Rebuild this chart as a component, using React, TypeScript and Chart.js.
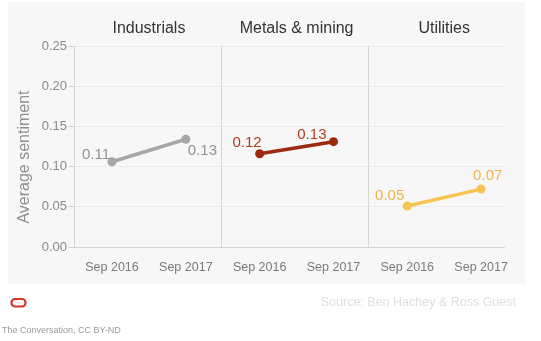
import React, { useEffect, useRef } from 'react';
import { Chart, registerables } from 'chart.js';

Chart.register(...registerables);

// ---- Data ----
const sectors = ['Industrials', 'Metals & mining', 'Utilities'];
const periods = ['Sep 2016', 'Sep 2017'];
const industrials = [0.106, 0.134];
const metalsMining = [0.116, 0.131];
const utilities = [0.051, 0.072];
const industrialsLabels = ['0.11', '0.13'];
const metalsLabels = ['0.12', '0.13'];
const utilitiesLabels = ['0.05', '0.07'];
const yTicks = [0, 0.05, 0.1, 0.15, 0.2, 0.25];
const yTitle = 'Average sentiment';
const sourceText = 'Source: Ben Hachey & Ross Guest';
const creditText = 'The Conversation, CC BY-ND';

// ---- Styles ----
const FONT = "'Liberation Sans', Arial, sans-serif";
const seriesStyles = [
  { line: '#a7a7a7', label: '#929292' },
  { line: '#9c2a0e', label: '#b23d1f' },
  { line: '#f8c451', label: '#eeb44c' },
];
// label placement per point: [dx, dy, align]
const labelPlacement: [number, number, CanvasTextAlign][][] = [
  [[-2, -7, 'right'], [2, 12, 'left']],
  [[2, -11, 'right'], [-7, -7, 'right']],
  [[-3, -10, 'right'], [-8, -13, 'left']],
];

const seriesValues = [industrials, metalsMining, utilities];
const seriesLabels = [industrialsLabels, metalsLabels, utilitiesLabels];

export default function App() {
  const ref = useRef<HTMLCanvasElement | null>(null);

  useEffect(() => {
    if (!ref.current) return;

    const decor = {
      id: 'decor',
      beforeDraw(chart: any) {
        const { ctx } = chart;
        ctx.save();
        ctx.fillStyle = '#ffffff';
        ctx.fillRect(0, 0, chart.width, chart.height);
        ctx.fillStyle = '#f7f7f7';
        ctx.fillRect(8, 2, 517, 282);
        ctx.restore();
      },
      beforeDatasetsDraw(chart: any) {
        const { ctx, chartArea } = chart;
        const xs = chart.scales.x;
        ctx.save();
        ctx.strokeStyle = '#d6d6d6';
        ctx.lineWidth = 1;
        [1.48, 3.47].forEach((v) => {
          const px = Math.round(xs.getPixelForValue(v)) + 0.5;
          ctx.beginPath();
          ctx.moveTo(px, chartArea.top);
          ctx.lineTo(px, chartArea.bottom);
          ctx.stroke();
        });
        ctx.restore();
      },
      afterDraw(chart: any) {
        const { ctx } = chart;
        const xs = chart.scales.x;
        ctx.save();
        // panel titles
        ctx.fillStyle = '#333333';
        ctx.font = `16px ${FONT}`;
        ctx.textAlign = 'center';
        ctx.textBaseline = 'middle';
        sectors.forEach((s, i) => {
          const cx = (xs.getPixelForValue(i * 2) + xs.getPixelForValue(i * 2 + 1)) / 2;
          ctx.fillText(s, cx, 29);
        });
        // value labels
        ctx.font = `15px ${FONT}`;
        seriesLabels.forEach((labels, di) => {
          const meta = chart.getDatasetMeta(di);
          labels.forEach((t, pi) => {
            const el = meta.data[pi];
            const [dx, dy, align] = labelPlacement[di][pi];
            ctx.fillStyle = seriesStyles[di].label;
            ctx.textAlign = align;
            ctx.fillText(t, el.x + dx, el.y + dy);
          });
        });
        // y title
        ctx.save();
        ctx.translate(25, 157);
        ctx.rotate(-Math.PI / 2);
        ctx.fillStyle = '#909090';
        ctx.font = `16px ${FONT}`;
        ctx.textAlign = 'center';
        ctx.fillText(yTitle, 0, 0);
        ctx.restore();
        // footer
        ctx.strokeStyle = '#d9342b';
        ctx.lineWidth = 2.2;
        ctx.beginPath();
        (ctx as any).roundRect(11.5, 299, 14, 7.5, 3.5);
        ctx.stroke();
        ctx.fillStyle = '#e0e0e0';
        ctx.font = `12.5px ${FONT}`;
        ctx.textAlign = 'right';
        ctx.fillText(sourceText, 516, 303);
        ctx.fillStyle = '#9a9a9a';
        ctx.font = `9px ${FONT}`;
        ctx.textAlign = 'left';
        ctx.fillText(creditText, 2, 331);
        ctx.restore();
      },
    };

    const chart = new Chart(ref.current, {
      type: 'line',
      data: {
        datasets: seriesValues.map((vals, si) => ({
          label: sectors[si],
          data: vals.map((v, pi) => ({ x: si * 2 + pi, y: v })),
          borderColor: seriesStyles[si].line,
          backgroundColor: seriesStyles[si].line,
          pointBackgroundColor: seriesStyles[si].line,
          pointBorderWidth: 0,
          pointRadius: 4.5,
          borderWidth: 3.5,
          fill: false,
        })),
      },
      options: {
        animation: false,
        responsive: false,
        devicePixelRatio: 1,
        layout: { padding: { left: 8, right: 37, top: 46, bottom: 57 } },
        plugins: { legend: { display: false }, tooltip: { enabled: false } },
        scales: {
          x: {
            type: 'linear',
            min: -0.515,
            max: 5.31,
            afterBuildTicks: (s: any) => {
              s.ticks = [0, 1, 2, 3, 4, 5].map((v) => ({ value: v }));
            },
            afterFit: (s: any) => {
              s.height = 37;
            },
            ticks: {
              callback: (v: any) => periods[Number(v) % 2],
              font: { family: FONT, size: 12.5 },
              color: '#7a7a7a',
              padding: 13,
              autoSkip: false,
              maxRotation: 0,
            },
            grid: { display: false, drawTicks: false },
            border: { display: true, color: '#d6d6d6', width: 1 },
          },
          y: {
            min: 0,
            max: 0.25,
            afterBuildTicks: (s: any) => {
              s.ticks = yTicks.map((v) => ({ value: v }));
            },
            afterFit: (s: any) => {
              s.width = 66;
            },
            ticks: {
              callback: (v: any) => Number(v).toFixed(2),
              font: { family: FONT, size: 13 },
              color: '#8a8a8a',
              padding: 2,
            },
            grid: { color: '#ebebeb', tickLength: 5, tickColor: '#d0d0d0' },
            border: { display: true, color: '#d6d6d6', width: 1 },
          },
        },
      },
      plugins: [decor],
    } as any);

    return () => chart.destroy();
  }, []);

  return (
    <div style={{ position: 'fixed', left: 0, top: 0, width: 541, height: 341 }}>
      <canvas ref={ref} width={541} height={341} style={{ display: 'block' }} />
    </div>
  );
}
